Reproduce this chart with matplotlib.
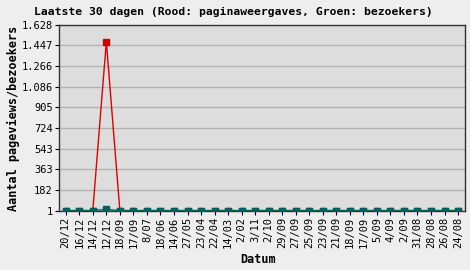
import matplotlib
matplotlib.use("Agg")
import matplotlib.pyplot as plt

dates = ["20/12", "16/12", "14/12", "12/12", "18/09", "17/09", "8/07", "18/06",
         "14/06", "27/05", "23/04", "22/04", "14/03", "2/02", "3/11", "2/10",
         "29/09", "27/09", "25/09", "23/09", "21/09", "18/09", "17/09", "5/09",
         "4/09", "2/09", "31/08", "28/08", "26/08", "24/08"]
pageviews = [1, 1, 1, 1480, 1, 1, 1, 1, 1, 1, 1, 1, 1, 1, 1,
             1, 1, 1, 1, 1, 1, 1, 1, 1, 1, 1, 1, 1, 1, 1]
visitors = [1, 1, 1, 12, 1, 1, 1, 1, 1, 1, 1, 1, 1, 1, 1,
            1, 1, 1, 1, 1, 1, 1, 1, 1, 1, 1, 1, 1, 1, 1]
yticks = [1, 182, 363, 543, 724, 905, 1086, 1266, 1447, 1628]
ylabels = ["1", "182", "363", "543", "724", "905", "1.086", "1.266", "1.447", "1.628"]

plt.rcParams['font.family'] = 'DejaVu Sans Mono'

fig = plt.figure(figsize=(4.7, 2.7), dpi=100, facecolor='#eeeeee')
ax = fig.add_axes([0.1255, 0.22, 0.8635, 0.6885], facecolor='#dddddd')

x = range(len(dates))
ax.plot(x, pageviews, color='#dd0000', lw=1, marker='s', ms=4.5,
        mfc='#cc0000', mec='#cc0000', zorder=3)
ax.plot(x, visitors, color='#006060', lw=1, marker='s', ms=5,
        mfc='#006060', mec='#006060', zorder=4)

ax.set_xlim(-0.5, len(dates) - 0.5)
ax.set_ylim(1, 1628)
ax.set_yticks(yticks)
ax.set_yticklabels(ylabels, fontsize=7.5)
ax.set_xticks(list(x))
ax.set_xticklabels(dates, rotation=90, fontsize=7.5)
ax.grid(axis='y', color='#b4b4b4', lw=1)
ax.set_axisbelow(True)
ax.tick_params(length=3, width=0.8, pad=1.5)
for s in ax.spines.values():
    s.set_color('#333333')
    s.set_linewidth(1)

fig.text(0.496, 0.955, "Laatste 30 dagen (Rood: paginaweergaves, Groen: bezoekers)",
         ha='center', va='center', fontsize=8.2, fontweight='bold')
fig.text(0.55, 0.04, "Datum", ha='center', va='center', fontsize=8.5, fontweight='bold')
fig.text(0.028, 0.56, "Aantal pageviews/bezoekers", ha='center', va='center',
         rotation=90, fontsize=8.5, fontweight='bold')

fig.savefig("out.png", dpi=100, facecolor=fig.get_facecolor())
